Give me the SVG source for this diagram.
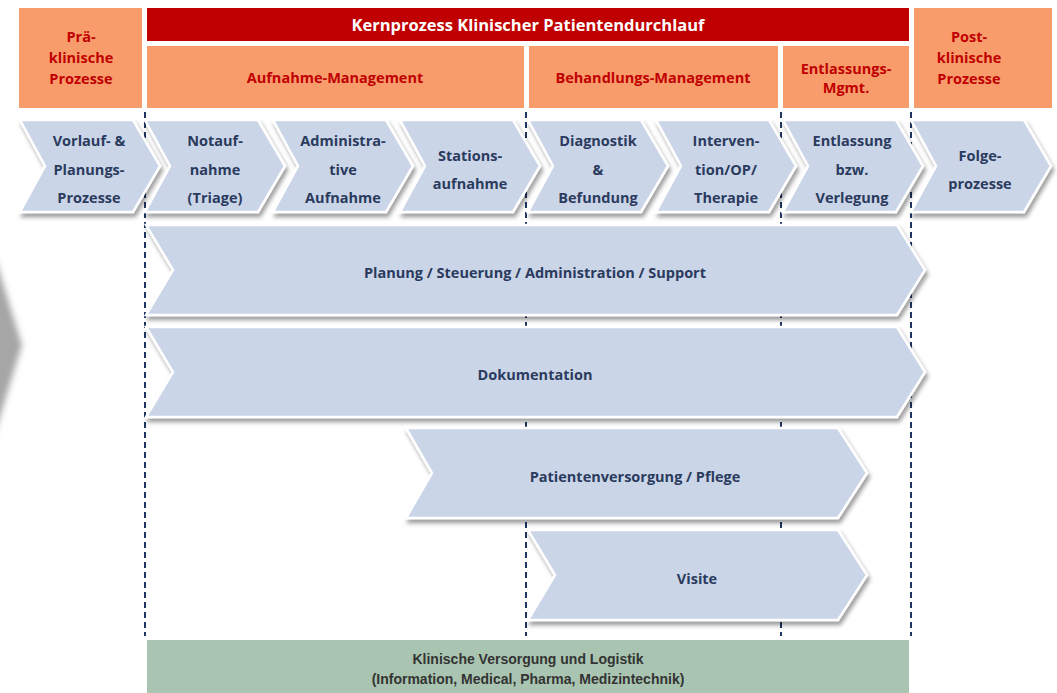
<svg xmlns="http://www.w3.org/2000/svg" width="1057" height="693" viewBox="0 0 1057 693">
<defs>
<filter id="sh" x="-10%" y="-20%" width="125%" height="150%">
<feDropShadow dx="2" dy="4" stdDeviation="2.2" flood-color="#000" flood-opacity="0.38"/>
</filter>
<filter id="blur" x="-50%" y="-20%" width="200%" height="140%">
<feGaussianBlur stdDeviation="3"/>
</filter>
</defs>
<style>
.hdr{fill:#f99c6b}
.red{fill:#c00000}
.ht{font-family:"Open Sans","Liberation Sans",sans-serif;font-weight:700;font-size:14.5px;fill:#c00000;text-anchor:middle}
.tt{font-family:"Open Sans","Liberation Sans",sans-serif;font-weight:700;font-size:16.5px;fill:#ffffff;text-anchor:middle}
.chev{fill:#cbd5e8;stroke:#ffffff;stroke-width:2.5;stroke-linejoin:miter;filter:url(#sh)}
.ct{font-family:"Open Sans","Liberation Sans",sans-serif;font-weight:700;font-size:14.5px;fill:#2a3b5e;text-anchor:middle}
.dash{stroke:#1f3561;stroke-width:2;stroke-dasharray:6 4;fill:none}
.grn{fill:#a9c5b1}
.gt{font-family:"Liberation Sans",sans-serif;font-weight:700;font-size:14px;fill:#333333;text-anchor:middle}
</style>
<rect width="1057" height="693" fill="#ffffff"/>

<g id="bg-shape">
<polygon points="-40,248 -8,248 22,345 -8,442 -40,442" fill="#a6a6a6" filter="url(#blur)"/>
</g>

<g id="connectors">
<line class="dash" x1="145" y1="112" x2="145" y2="636"/>
<line class="dash" x1="526" y1="112" x2="526" y2="636"/>
<line class="dash" x1="781" y1="112" x2="781" y2="636"/>
<line class="dash" x1="911" y1="112" x2="911" y2="636"/>
</g>

<g id="pre-header">
<rect class="hdr" x="19" y="8" width="123" height="100"/>
<text class="ht" x="81" y="42">Prä-</text>
<text class="ht" x="81" y="63">klinische</text>
<text class="ht" x="81" y="84">Prozesse</text>
</g>
<g id="core-header">
<rect class="red" x="147" y="8" width="762" height="33"/>
<text class="tt" x="528" y="31">Kernprozess Klinischer Patientendurchlauf</text>
</g>
<g id="aufnahme-header">
<rect class="hdr" x="147" y="46" width="377" height="62"/>
<text class="ht" x="335" y="83">Aufnahme-Management</text>
</g>
<g id="behandlung-header">
<rect class="hdr" x="529" y="46" width="249" height="62"/>
<text class="ht" x="653" y="83">Behandlungs-Management</text>
</g>
<g id="entlassung-header">
<rect class="hdr" x="783" y="46" width="126" height="62"/>
<text class="ht" x="846" y="74">Entlassungs-</text>
<text class="ht" x="846" y="93">Mgmt.</text>
</g>
<g id="post-header">
<rect class="hdr" x="914" y="8" width="138" height="100"/>
<text class="ht" x="969" y="42">Post-</text>
<text class="ht" x="969" y="63">klinische</text>
<text class="ht" x="969" y="84">Prozesse</text>
</g>

<g id="vorlauf">
<polygon class="chev" points="20,120 133,120 160,166 133,212 20,212 45,166"/>
<text class="ct" x="89" y="146">Vorlauf- &amp;</text>
<text class="ct" x="89" y="175">Planungs-</text>
<text class="ct" x="89" y="203">Prozesse</text>
</g>
<g id="notaufnahme">
<polygon class="chev" points="145,120 258,120 285,166 258,212 145,212 170,166"/>
<text class="ct" x="215" y="146">Notauf-</text>
<text class="ct" x="215" y="175">nahme</text>
<text class="ct" x="215" y="203">(Triage)</text>
</g>
<g id="administrative">
<polygon class="chev" points="273,120 386,120 413,166 386,212 273,212 298,166"/>
<text class="ct" x="343" y="146">Administra-</text>
<text class="ct" x="343" y="175">tive</text>
<text class="ct" x="343" y="203">Aufnahme</text>
</g>
<g id="stationsaufnahme">
<polygon class="chev" points="400,120 513,120 540,166 513,212 400,212 425,166"/>
<text class="ct" x="470" y="161">Stations-</text>
<text class="ct" x="470" y="189">aufnahme</text>
</g>
<g id="diagnostik">
<polygon class="chev" points="528,120 641,120 668,166 641,212 528,212 553,166"/>
<text class="ct" x="598" y="146">Diagnostik</text>
<text class="ct" x="598" y="175">&amp;</text>
<text class="ct" x="598" y="203">Befundung</text>
</g>
<g id="intervention">
<polygon class="chev" points="656,120 769,120 796,166 769,212 656,212 681,166"/>
<text class="ct" x="726" y="146">Interven-</text>
<text class="ct" x="726" y="175">tion/OP/</text>
<text class="ct" x="726" y="203">Therapie</text>
</g>
<g id="entlassung">
<polygon class="chev" points="783,120 896,120 923,166 896,212 783,212 808,166"/>
<text class="ct" x="852" y="146">Entlassung</text>
<text class="ct" x="852" y="175">bzw.</text>
<text class="ct" x="852" y="203">Verlegung</text>
</g>
<g id="folgeprozesse">
<polygon class="chev" points="911,120 1024,120 1051,166 1024,212 911,212 936,166"/>
<text class="ct" x="980" y="161">Folge-</text>
<text class="ct" x="980" y="189">prozesse</text>
</g>

<g id="planung">
<polygon class="chev" points="146,225 897,225 925,270 897,315 146,315 173,270"/>
<text class="ct" x="535" y="278">Planung / Steuerung / Administration / Support</text>
</g>
<g id="dokumentation">
<polygon class="chev" points="146,327 897,327 925,372 897,417 146,417 173,372"/>
<text class="ct" x="535" y="380">Dokumentation</text>
</g>
<g id="patientenversorgung">
<polygon class="chev" points="406,428 838,428 867,473 838,518 406,518 432,473"/>
<text class="ct" x="635" y="482">Patientenversorgung / Pflege</text>
</g>
<g id="visite">
<polygon class="chev" points="528,530 838,530 867,575 838,620 528,620 555,575"/>
<text class="ct" x="697" y="584">Visite</text>
</g>

<g id="logistik">
<rect class="grn" x="147" y="640" width="762" height="53"/>
<text class="gt" x="528" y="664">Klinische Versorgung und Logistik</text>
<text class="gt" x="528" y="684">(Information, Medical, Pharma, Medizintechnik)</text>
</g>
</svg>
